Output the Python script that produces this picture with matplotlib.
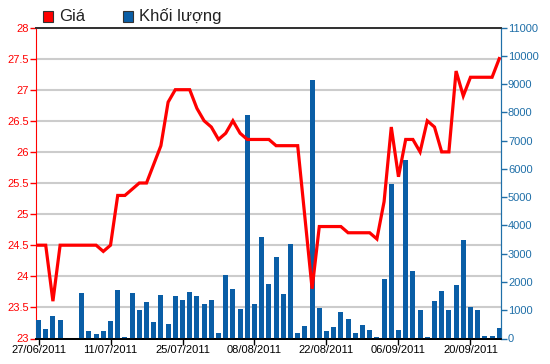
import numpy as np
import pandas as pd
import matplotlib
matplotlib.use("Agg")
import matplotlib.pyplot as plt
from matplotlib.patches import Rectangle

plt.rcParams['font.family'] = ['Liberation Sans', 'DejaVu Sans']

# Trading days (02/09 is a holiday)
dates = pd.bdate_range('2011-06-27', '2011-09-26')
dates = dates[dates != pd.Timestamp('2011-09-02')]
date_labels = [d.strftime('%d/%m/%Y') for d in dates]

price = [24.5, 24.5, 23.6, 24.5, 24.5, 24.5, 24.5, 24.5, 24.5, 24.4,
         24.5, 25.3, 25.3, 25.4, 25.5, 25.5, 25.8, 26.1, 26.8, 27.0,
         27.0, 27.0, 26.7, 26.5, 26.4, 26.2, 26.3, 26.5, 26.3, 26.2,
         26.2, 26.2, 26.2, 26.1, 26.1, 26.1, 26.1, 24.95, 23.8, 24.8,
         24.8, 24.8, 24.8, 24.7, 24.7, 24.7, 24.7, 24.6, 25.2, 26.4,
         25.6, 26.2, 26.2, 26.0, 26.5, 26.4, 26.0, 26.0, 27.3, 26.9,
         27.2, 27.2, 27.2, 27.2, 27.5]

volume = [650, 335, 780, 650, 0, 0, 1620, 265, 160, 265,
          620, 1700, 40, 1620, 1000, 1280, 600, 1525, 510, 1490,
          1360, 1655, 1490, 1220, 1360, 205, 2230, 1750, 1055, 7920,
          1220, 3600, 1925, 2900, 1580, 3360, 205, 440, 9160, 1095,
          250, 390, 925, 690, 205, 465, 290, 40, 2115, 5480,
          300, 6330, 2385, 1005, 40, 1315, 1665, 1005, 1880, 3470,
          1125, 995, 90, 90, 380]

price_ticks = np.arange(23, 28.01, 0.5)
vol_ticks = np.arange(0, 11001, 1000)

RED = '#ff0000'
BLUE = '#1f6fa8'
BAR = '#0a5ea6'

x = np.arange(len(dates))

fig = plt.figure(figsize=(5.5, 3.64), dpi=100)
ax_p = fig.add_axes([36 / 550, 1 - 338.5 / 364, 465 / 550, 311 / 364])
ax_v = ax_p.twinx()

# price axis (left) with grid
ax_p.set_ylim(23, 28)
ax_p.set_yticks(price_ticks)
ax_p.set_yticklabels([f'{t:g}' for t in price_ticks])
ax_p.yaxis.grid(True, color='#cccccc', lw=1.5)
ax_p.set_axisbelow(True)
ax_p.tick_params(axis='y', colors=RED, labelsize=8, length=4, width=1, pad=1)
ax_p.set_xlim(-0.35, len(dates) - 0.76)
ax_p.set_xticks(x[::10])
ax_p.set_xticklabels(date_labels[::10])
ax_p.tick_params(axis='x', colors='black', labelsize=8, length=4, width=1, pad=1)

# volume axis (right)
ax_v.bar(x, volume, width=0.68, color=BAR, zorder=2)
ax_v.set_ylim(0, 11000)
ax_v.set_yticks(vol_ticks)
ax_v.tick_params(axis='y', colors=BLUE, labelsize=8, length=4, width=1, pad=1)

# price line on top of bars
ax_v.plot(x, price, color=RED, lw=2.3, transform=ax_p.transData, zorder=5,
          solid_joinstyle='miter')

for a in (ax_p, ax_v):
    a.spines['left'].set_color(RED)
    a.spines['right'].set_color(BLUE)
    a.spines['top'].set_color('#333333')
    a.spines['top'].set_linewidth(1.3)
    a.spines['bottom'].set_color('black')
    a.spines['bottom'].set_linewidth(1.3)
ax_v.spines['left'].set_visible(False)

# legend
fig.patches.append(Rectangle((43 / 550, 1 - 22 / 364), 10 / 550, 11 / 364,
                             transform=fig.transFigure, facecolor=RED,
                             edgecolor='#333333', lw=0.8))
fig.text(59 / 550, 1 - 16.5 / 364, 'Giá', fontsize=12, va='center', color='#222222')
fig.patches.append(Rectangle((123 / 550, 1 - 22 / 364), 10 / 550, 11 / 364,
                             transform=fig.transFigure, facecolor=BAR,
                             edgecolor='#333333', lw=0.8))
fig.text(139 / 550, 1 - 16.5 / 364, 'Khối lượng', fontsize=12, va='center', color='#222222')

fig.savefig('out.png', dpi=100)
